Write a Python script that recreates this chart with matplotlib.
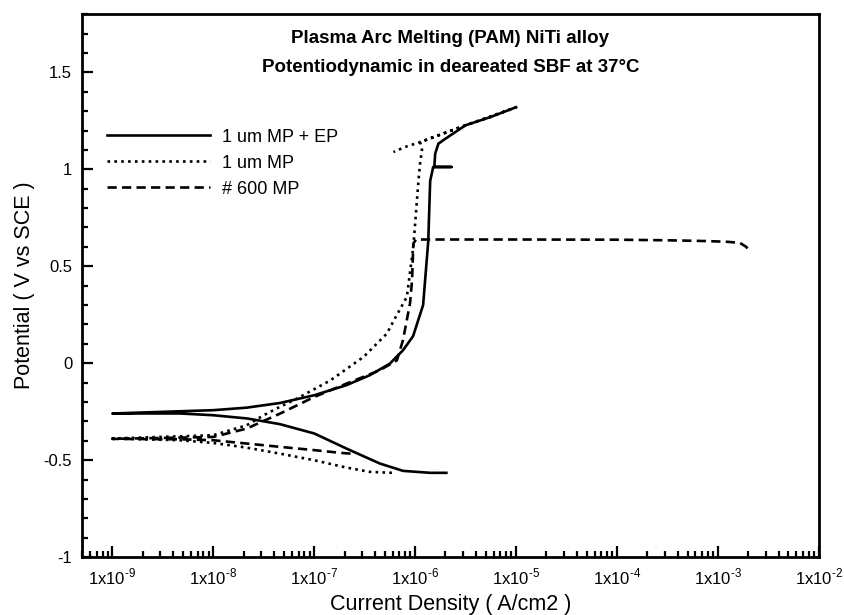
import numpy as np
import matplotlib
matplotlib.use("Agg")
import matplotlib.pyplot as plt
from matplotlib.ticker import FixedLocator, FuncFormatter, MultipleLocator, LogLocator, NullFormatter

plt.rcParams['font.family'] = ['Liberation Sans', 'DejaVu Sans']

# ---- data (current density A/cm2, potential V vs SCE) ----
ep_current = [2.04e-6, 1.41e-6, 7.6e-7, 4.47e-7, 2.09e-7, 1.0e-7, 4.57e-8, 2.19e-8, 1.0e-8, 4.68e-9, 1.0e-9,
              1.0e-8, 2.14e-8, 4.57e-8, 1.0e-7, 2.09e-7, 3.55e-7, 5.62e-7, 7.59e-7, 9.55e-7, 1.2e-6,
              1.35e-6, 1.41e-6, 1.48e-6, 1.51e-6, 1.55e-6, 2.29e-6, 1.55e-6, 1.58e-6, 1.7e-6, 2.0e-6,
              3.16e-6, 5.62e-6, 1.0e-5]
ep_potential = [-0.565, -0.565, -0.555, -0.517, -0.44, -0.362, -0.314, -0.285, -0.268, -0.259, -0.259,
                -0.242, -0.229, -0.205, -0.165, -0.113, -0.062, -0.002, 0.067, 0.14, 0.30,
                0.63, 0.94, 0.99, 1.012, 1.012, 1.012, 1.012, 1.08, 1.132, 1.158,
                1.227, 1.27, 1.32]

mp_current = [5.89e-7, 3.55e-7, 2.09e-7, 1.0e-7, 4.57e-8, 2.14e-8, 1.0e-8, 4.68e-9, 1.0e-9,
              1.0e-8, 2.14e-8, 3.16e-8, 4.57e-8, 6.76e-8, 1.45e-7, 3.09e-7, 5.25e-7, 6.6e-7,
              8.28e-7, 9.6e-7, 1.08e-6, 1.12e-6, 1.17e-6, 1.12e-6, 3.16e-6, 5.62e-6, 1.0e-5,
              3.16e-6, 1.12e-6, 7.94e-7, 6.1e-7]
mp_potential = [-0.565, -0.56, -0.538, -0.5, -0.466, -0.435, -0.411, -0.397, -0.388,
                -0.371, -0.32, -0.268, -0.225, -0.182, -0.088, 0.033, 0.153, 0.25,
                0.342, 0.6, 0.943, 1.03, 1.10, 1.14, 1.227, 1.27, 1.32,
                1.227, 1.14, 1.115, 1.089]

p600_current = [2.29e-7, 1.82e-7, 1.0e-7, 4.57e-8, 2.14e-8, 1.0e-8, 4.68e-9, 1.0e-9,
                1.0e-8, 2.14e-8, 4.57e-8, 1.0e-7, 2.09e-7, 4.47e-7, 6.6e-7, 7.59e-7, 8.91e-7,
                9.33e-7, 9.6e-7, 1.02e-6, 1.0e-5, 1.0e-4, 3.16e-4, 7.76e-4, 1.26e-3, 1.66e-3,
                1.91e-3, 2.09e-3]
p600_potential = [-0.466, -0.462, -0.448, -0.431, -0.414, -0.397, -0.392, -0.39,
                  -0.38, -0.337, -0.26, -0.174, -0.105, -0.036, 0.015, 0.12, 0.31,
                  0.428, 0.617, 0.638, 0.638, 0.637, 0.634, 0.63, 0.626, 0.62,
                  0.60, 0.574]

series_labels = ["1 um MP + EP", "1 um MP", "# 600 MP"]

title_lines = ["Plasma Arc Melting (PAM) NiTi alloy",
               "Potentiodynamic in deareated SBF at 37\u00b0C"]
x_label = "Current Density ( A/cm2 )"
y_label = "Potential ( V vs SCE )"

x_major = [1e-9, 1e-8, 1e-7, 1e-6, 1e-5, 1e-4, 1e-3, 1e-2]
y_major = [-1, -0.5, 0, 0.5, 1, 1.5]

# ---- figure ----
fig = plt.figure(figsize=(8.45, 6.15), dpi=100)
ax = fig.add_axes([0.097, 0.094, 0.872, 0.883])

lw = 1.9
ax.plot(ep_current, ep_potential, color='black', lw=lw, ls='-', label=series_labels[0])
ax.plot(mp_current, mp_potential, color='black', lw=lw, ls=(0, (1, 1.6)), label=series_labels[1])
ax.plot(p600_current, p600_potential, color='black', lw=lw, ls=(0, (3.5, 2.0)), label=series_labels[2])

ax.set_xscale('log')
ax.set_xlim(5e-10, 1e-2)
ax.set_ylim(-1, 1.8)

ax.xaxis.set_major_locator(FixedLocator(x_major))
ax.xaxis.set_minor_locator(LogLocator(base=10, subs=np.arange(2, 10), numticks=30))
ax.xaxis.set_minor_formatter(NullFormatter())

def xfmt(v, pos):
    e = int(round(np.log10(v)))
    return "1x10$^{\\mathregular{\u2010%d}}$" % abs(e)
ax.xaxis.set_major_formatter(FuncFormatter(xfmt))

ax.yaxis.set_major_locator(FixedLocator(y_major))
ax.yaxis.set_minor_locator(MultipleLocator(0.1))
ax.yaxis.set_major_formatter(FuncFormatter(lambda v, p: "%g" % v))

ax.tick_params(which='both', direction='in', top=False, right=False, width=1.6, labelsize=12)
ax.tick_params(which='major', length=8, pad=7)
ax.tick_params(which='minor', length=4.5)
for s in ax.spines.values():
    s.set_linewidth(2.0)

ax.set_xlabel(x_label, fontsize=15.5, labelpad=5)
ax.set_ylabel(y_label, fontsize=15.5, labelpad=6)

ax.text(0.5, 0.956, title_lines[0], transform=ax.transAxes, ha='center', va='center',
        fontsize=13.5, fontweight='bold')
ax.text(0.5, 0.902, title_lines[1], transform=ax.transAxes, ha='center', va='center',
        fontsize=13.5, fontweight='bold')

ax.legend(loc='upper left', bbox_to_anchor=(0.034, 0.789), frameon=False, fontsize=13,
          handlelength=5.7, handletextpad=0.65, labelspacing=0.5, borderpad=0, borderaxespad=0)

fig.savefig("out.png", dpi=100)
